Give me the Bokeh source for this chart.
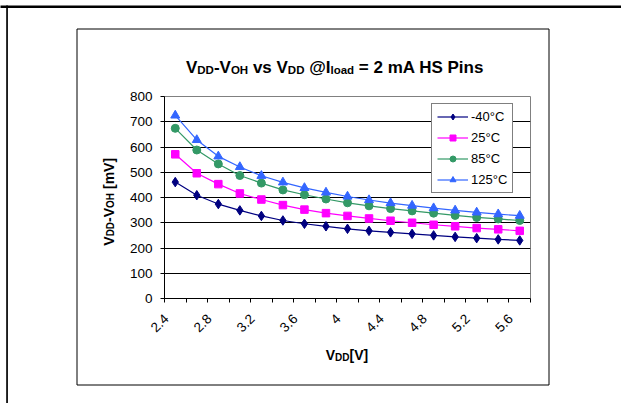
import math
from bokeh.plotting import figure
from bokeh.models import (Range1d, FixedTicker, LinearAxis, Grid, Legend, LegendItem,
                          ColumnDataSource)
from bokeh.core.properties import value
from bokeh.embed import file_html
from bokeh.resources import INLINE

# ---------------- data ----------------
vdd = [2.4, 2.6, 2.8, 3.0, 3.2, 3.4, 3.6, 3.8, 4.0, 4.2, 4.4, 4.6, 4.8, 5.0, 5.2, 5.4, 5.6]
t_m40 = [461, 409, 374, 349, 327, 309, 296, 286, 276, 268, 262, 256, 250, 244, 239, 234, 230]
t_25 = [571, 496, 453, 416, 392, 370, 352, 338, 327, 317, 308, 300, 292, 286, 279, 274, 268]
t_85 = [674, 588, 533, 487, 457, 430, 411, 394, 379, 367, 356, 347, 338, 329, 321, 315, 309]
t_125 = [725, 628, 563, 521, 486, 460, 438, 420, 404, 390, 378, 368, 358, 349, 341, 334, 328]
series_names = ["-40°C", "25°C", "85°C", "125°C"]
x_tick_values = [2.4, 2.8, 3.2, 3.6, 4.0, 4.4, 4.8, 5.2, 5.6]
x_tick_labels = ["2.4", "2.8", "3.2", "3.6", "4", "4.4", "4.8", "5.2", "5.6"]
y_ticks = [0, 100, 200, 300, 400, 500, 600, 700, 800]

# ---------------- layout ----------------
W, H = 621, 403
FL, FT, FR, FB = 164, 96, 530, 298   # plot frame in canvas px
FONT = "Liberation Sans"
TICK_FS = "13.5px"

src = ColumnDataSource(dict(vdd=vdd, t_m40=t_m40, t_25=t_25, t_85=t_85, t_125=t_125))

step = vdd[1] - vdd[0]
X0, X1 = vdd[0] - step / 2, vdd[-1] + step / 2
Y0, Y1 = y_ticks[0], y_ticks[-1]
p = figure(width=W, height=H, output_backend="svg", toolbar_location=None,
           x_range=Range1d(X0, X1), y_range=Range1d(Y0, Y1),
           x_axis_type=None, y_axis_type=None,
           min_border_left=FL, min_border_top=FT,
           min_border_right=W - FR, min_border_bottom=H - FB)
p.background_fill_color = "white"
p.border_fill_color = "white"
p.outline_line_color = "#808080"
p.outline_line_width = 1

def xd(px):
    return X0 + (px - FL) / (FR - FL) * (X1 - X0)

def yd(py):
    return Y0 + (FB - py) / (FB - FT) * (Y1 - Y0)

# y axis
yax = LinearAxis(ticker=FixedTicker(ticks=y_ticks, minor_ticks=[]))
yax.axis_line_color = "black"
yax.major_tick_line_color = "black"
yax.major_tick_out = 4
yax.major_tick_in = 0
yax.minor_tick_line_color = None
yax.major_label_text_font = FONT
yax.major_label_text_font_size = TICK_FS
yax.major_label_text_color = "black"
yax.major_label_standoff = 8
p.add_layout(yax, "left")

# x axis 1: ticks at category boundaries
bounds = [v - step / 2 for v in vdd] + [vdd[-1] + step / 2]
xax = LinearAxis(ticker=FixedTicker(ticks=[], minor_ticks=bounds))
xax.axis_line_color = "black"
xax.major_tick_line_color = None
xax.minor_tick_line_color = "black"
xax.minor_tick_out = 4
xax.minor_tick_in = 0
xax.major_label_text_font_size = "0px"
p.add_layout(xax, "below")

# x axis 2: rotated category labels (every other category)
shift = 9 / (FR - FL) * (X1 - X0)
p.extra_x_ranges = {"lab": Range1d(X0 + shift, X1 + shift)}
xlab = LinearAxis(x_range_name="lab", ticker=FixedTicker(ticks=x_tick_values, minor_ticks=[]))
xlab.major_label_overrides = {v: s for v, s in zip(x_tick_values, x_tick_labels)}
xlab.axis_line_color = None
xlab.major_tick_line_color = None
xlab.major_tick_out = 0
xlab.major_tick_in = 0
xlab.minor_tick_line_color = None
xlab.major_label_orientation = math.pi / 4
xlab.major_label_text_font = FONT
xlab.major_label_text_font_size = TICK_FS
xlab.major_label_text_color = "black"
xlab.major_label_standoff = 14
p.add_layout(xlab, "below")

p.add_layout(Grid(dimension=1, ticker=FixedTicker(ticks=y_ticks[1:-1]),
                  grid_line_color="black", grid_line_width=1))

# series
styles = [
    ("t_m40", "#000080", "diamond", 9.5),
    ("t_25", "#FF00FF", "square", 7.5),
    ("t_85", "#339966", "circle", 8),
    ("t_125", "#3366FF", "triangle", 9),
]
items = []
for (col, color, marker, size), name in zip(styles, series_names):
    rl = p.line("vdd", col, source=src, line_color=color, line_width=1.2)
    rm = p.scatter("vdd", col, source=src, marker=marker, size=size,
                   fill_color=color, line_color=color)
    items.append(LegendItem(label=name, renderers=[rl, rm]))

legend = Legend(items=items, location=(267, 105), orientation="vertical", margin=0,
                padding=5, spacing=6, glyph_width=31, glyph_height=15, label_height=15,
                label_standoff=3, label_text_font=FONT, label_text_font_size="13px",
                label_text_color="black", border_line_color="black", border_line_width=1,
                background_fill_color="white", background_fill_alpha=1)
p.add_layout(legend)

# decorations (page frame lines and chart-area border), drawn unclipped
p.quad(left=[xd(0), xd(5.7)], right=[xd(W), xd(7.4)], top=[yd(5), yd(5)],
       bottom=[yd(7.4), yd(H)], fill_color="black", line_color=None, level="overlay")
p.quad(left=[xd(76.5)], right=[xd(548.5)], top=[yd(28.5)], bottom=[yd(384.5)],
       fill_color=None, line_color="black", line_width=1, level="overlay")

# rich text with subscripts (Arial Bold metrics)
AB = {' ': 278, '-': 333, '@': 975, '=': 584, '2': 556, '[': 333, ']': 333, 'A': 722,
      'D': 722, 'H': 722, 'I': 278, 'O': 778, 'P': 667, 'S': 667, 'V': 667, 'a': 556,
      'd': 611, 'i': 278, 'l': 278, 'm': 889, 'n': 611, 'o': 611, 's': 556, 'v': 556}

tx, ty, tt, ts, ta = [], [], [], [], []

def rich(pieces, cx, cy, main, sub, drop, vertical=False):
    sizes = [sub if s else main for t, s in pieces]
    widths = [sum(AB[c] for c in t) / 1000 * fs for (t, s), fs in zip(pieces, sizes)]
    cur = -sum(widths) / 2
    for (t, s), w, fs in zip(pieces, widths, sizes):
        lead = (len(t) - len(t.lstrip(" "))) * AB[" "] / 1000 * fs
        pos = cur + lead
        off = drop if s else 0
        if vertical:
            px, py, ang = cx + off, cy - pos, math.pi / 2
        else:
            px, py, ang = cx + pos, cy + off, 0
        tx.append(xd(px)); ty.append(yd(py)); tt.append(t.strip(" "))
        ts.append(f"{fs}px"); ta.append(ang)
        cur += w

rich([("V", 0), ("DD", 1), ("-V", 0), ("OH", 1), (" vs V", 0), ("DD", 1), (" @I", 0),
      ("load", 1), (" = 2 mA HS Pins", 0)], 334.5, 67, 17, 11.5, 2)
rich([("V", 0), ("DD", 1), ("[V]", 0)], 346.5, 354.5, 14, 10, 2)
rich([("V", 0), ("DD", 1), ("-V", 0), ("OH", 1), (" [mV]", 0)], 108, 201.3, 14, 10, 2,
     vertical=True)

tsrc = ColumnDataSource(dict(x=tx, y=ty, text=tt, size=ts, angle=ta))
p.text("x", "y", text="text", angle="angle", source=tsrc, text_font=value(FONT),
       text_font_size="size", text_font_style="bold", text_align="left",
       text_baseline="alphabetic", text_color="black", level="overlay")

open("out.html", "w").write(file_html(p, INLINE))
